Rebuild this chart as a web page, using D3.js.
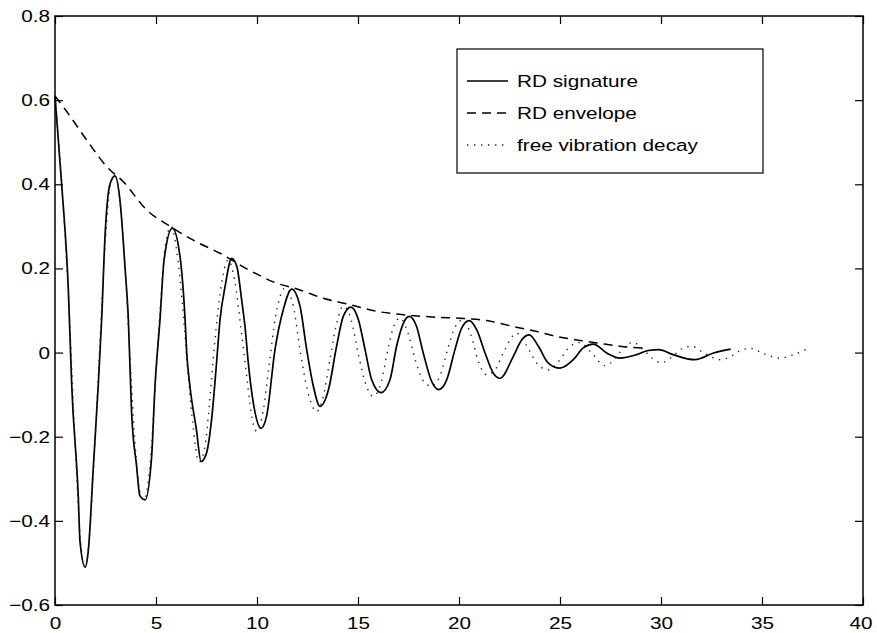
<!DOCTYPE html>
<html>
<head>
<meta charset="utf-8">
<script src="https://cdn.jsdelivr.net/npm/d3@7"></script>
<style>
  body { margin: 0; background: #fff; }
  text { font-family: "Liberation Sans", Arial, Helvetica, sans-serif; fill: #000; }
</style>
</head>
<body>
<script>
// values: [time, amplitude]
const signature = [
  [0, 0.61], [0.33, 0.40], [0.66, 0.15], [0.83, -0.08], [1.15, -0.34], [1.24, -0.45],
  [1.49, -0.51], [1.65, -0.47], [1.9, -0.27], [2.15, -0.07], [2.31, 0.08], [2.48, 0.28],
  [2.72, 0.40], [2.97, 0.42], [3.22, 0.36], [3.47, 0.20], [3.63, 0.08], [3.79, -0.14],
  [4.04, -0.27], [4.2, -0.34], [4.46, -0.35], [4.78, -0.25], [4.95, -0.08], [5.2, 0.08],
  [5.4, 0.22], [5.81, 0.296], [6.19, 0.228], [6.44, 0.078], [6.52, 0.0], [6.68, -0.08],
  [7.0, -0.183], [7.23, -0.259], [7.5, -0.239], [7.75, -0.16], [8.0, -0.023], [8.17, 0.078],
  [8.42, 0.157], [8.75, 0.224], [9.0, 0.205], [9.24, 0.125], [9.41, 0.06], [9.57, -0.025],
  [9.82, -0.12], [10.2, -0.18], [10.48, -0.15], [10.89, 0.007], [11.3, 0.102], [11.72, 0.151],
  [12.13, 0.11], [12.46, 0.007], [12.79, -0.08], [13.12, -0.128], [13.54, -0.088], [13.94, 0.015],
  [14.27, 0.086], [14.65, 0.108], [15.02, 0.078], [15.35, 0.007], [15.68, -0.065], [16.14, -0.095],
  [16.58, -0.065], [16.91, 0.015], [17.25, 0.07], [17.54, 0.086], [17.9, 0.062], [18.23, -0.001],
  [18.65, -0.069], [19.0, -0.088], [19.39, -0.065], [19.8, 0.007], [20.13, 0.058], [20.5, 0.076],
  [20.88, 0.054], [21.29, -0.001], [21.7, -0.049], [22.03, -0.061], [22.69, -0.009], [23.1, 0.03],
  [23.48, 0.042], [23.93, 0.015], [24.42, -0.025], [25.0, -0.037], [25.66, -0.017], [26.15, 0.011],
  [26.65, 0.020], [27.31, -0.001], [27.97, -0.013], [28.79, -0.005], [29.37, 0.005], [29.9, 0.007],
  [30.6, -0.005], [31.68, -0.017], [32.6, -0.001], [33.45, 0.008]
];

const envelope = [
  [0, 0.61], [0.58, 0.573], [1.57, 0.505], [2.56, 0.442], [3.38, 0.406], [4.54, 0.339],
  [5.69, 0.30], [6.97, 0.264], [8.17, 0.236], [9.65, 0.195], [10.97, 0.165], [12.05, 0.150],
  [13.28, 0.129], [14.6, 0.114], [15.93, 0.098], [17.24, 0.09], [18.89, 0.084], [20.21, 0.081],
  [21.37, 0.076], [22.69, 0.062], [23.68, 0.052], [24.84, 0.038], [25.83, 0.030], [26.82, 0.023],
  [27.97, 0.015], [29.3, 0.010]
];

const freeDecay = [
  [0, 0.61], [0.35, 0.39], [0.7, 0.1], [1.0, -0.22], [1.25, -0.44], [1.49, -0.51],
  [1.7, -0.44], [1.95, -0.24], [2.2, 0.0], [2.5, 0.27], [2.75, 0.40], [2.97, 0.42],
  [3.2, 0.37], [3.45, 0.22], [3.7, 0.0], [4.0, -0.24], [4.2, -0.33], [4.4, -0.35],
  [4.7, -0.27], [4.95, -0.09], [5.2, 0.1], [5.45, 0.25], [5.75, 0.30], [6.0, 0.25],
  [6.3, 0.12], [6.55, -0.03], [6.8, -0.16], [7.13, -0.26], [7.4, -0.23], [7.65, -0.12],
  [7.9, 0.02], [8.2, 0.15], [8.58, 0.22], [8.9, 0.17], [9.2, 0.06], [9.5, -0.06],
  [9.7, -0.14], [9.98, -0.187], [10.3, -0.14], [10.6, -0.03], [10.9, 0.08], [11.39, 0.153],
  [11.8, 0.11], [12.15, 0.0], [12.5, -0.09], [12.95, -0.14], [13.3, -0.1], [13.6, -0.02],
  [13.9, 0.06], [14.27, 0.11], [14.65, 0.08], [15.0, 0.0], [15.35, -0.07], [15.76, -0.104],
  [16.15, -0.07], [16.45, 0.0], [16.75, 0.06], [17.08, 0.082], [17.45, 0.05], [17.85, -0.02],
  [18.2, -0.065], [18.65, -0.08], [19.1, -0.05], [19.45, 0.01], [19.8, 0.06], [20.21, 0.078],
  [20.6, 0.04], [20.95, -0.02], [21.37, -0.053], [21.8, -0.04], [22.2, 0.0], [22.85, 0.046],
  [23.3, 0.02], [23.85, -0.025], [24.42, -0.041], [24.95, -0.02], [25.45, 0.012], [25.99, 0.024],
  [26.55, 0.0], [27.23, -0.031], [27.8, -0.01], [28.2, 0.015], [28.63, 0.024], [29.1, 0.008],
  [29.6, -0.015], [30.03, -0.024], [30.6, -0.008], [31.0, 0.008], [31.52, 0.015], [32.1, 0.0],
  [32.92, -0.017], [33.5, -0.008], [33.9, 0.004], [34.41, 0.010], [35.1, -0.003], [35.89, -0.013],
  [36.5, -0.006], [37.16, 0.007]
];

const xTicks = [0, 5, 10, 15, 20, 25, 30, 35, 40];
const yTicks = [-0.6, -0.4, -0.2, 0, 0.2, 0.4, 0.6, 0.8];
const legendLabels = ['RD signature', 'RD envelope', 'free vibration decay'];

const margin = { top: 16, right: 14, bottom: 28, left: 55 };
const width = 877 - margin.left - margin.right;
const height = 633 - margin.top - margin.bottom;

const svg = d3.select('body').append('svg')
    .attr('width', 877)
    .attr('height', 633);

const g = svg.append('g')
    .attr('transform', `translate(${margin.left}, ${margin.top})`);

const x = d3.scaleLinear().domain([0, 40]).range([0, width]);
const y = d3.scaleLinear().domain([-0.6, 0.8]).range([height, 0]);

const xFmt = (d) => String(d);
const yFmt = (d) => d === 0 ? '0' : d3.format('.1f')(d).replace('-', '\u2212');
const stretch = 'scale(1.22,1)';

// axes, MATLAB style: ticks inside on all four sides
const bottomAxis = g.append('g').attr('transform', `translate(0, ${height})`)
    .call(d3.axisBottom(x).tickValues(xTicks).tickFormat(xFmt).tickSizeInner(-8).tickSizeOuter(0).tickPadding(12));
const topAxis = g.append('g')
    .call(d3.axisTop(x).tickValues(xTicks).tickFormat('').tickSizeInner(-8).tickSizeOuter(0));
const leftAxis = g.append('g')
    .call(d3.axisLeft(y).tickValues(yTicks).tickFormat(yFmt).tickSizeInner(-8).tickSizeOuter(0).tickPadding(4));
const rightAxis = g.append('g').attr('transform', `translate(${width}, 0)`)
    .call(d3.axisRight(y).tickValues(yTicks).tickFormat('').tickSizeInner(-8).tickSizeOuter(0));

[bottomAxis, topAxis, leftAxis, rightAxis].forEach((a) => {
    a.select('.domain').remove();
    a.selectAll('line').attr('stroke', '#000').attr('stroke-width', 1.2);
    a.selectAll('text').style('font-size', '17px').attr('fill', '#000')
        .attr('font-family', '"Liberation Sans", Arial, sans-serif')
        .attr('transform', stretch);
});

// last x label sits at the very edge, pull it in so it stays on the page
bottomAxis.selectAll('text').filter((d) => d === 40).attr('text-anchor', 'end').attr('x', 7.5);

g.append('rect')
    .attr('width', width).attr('height', height)
    .attr('fill', 'none').attr('stroke', '#000').attr('stroke-width', 1.5);

const line = d3.line()
    .x((d) => x(d[0]))
    .y((d) => y(d[1]))
    .curve(d3.curveMonotoneX);

const styles = [
    { data: signature, dash: null, width: 1.7, color: '#000' },
    { data: envelope, dash: '9,6', width: 1.5, color: '#000' },
    { data: freeDecay, dash: '1.4,5.6', width: 1.4, color: '#222' }
];

g.selectAll('path.series').data(styles).join('path')
    .attr('class', 'series')
    .attr('d', (d) => line(d.data))
    .attr('fill', 'none')
    .attr('stroke', (d) => d.color)
    .attr('stroke-width', (d) => d.width)
    .attr('stroke-dasharray', (d) => d.dash);

// legend
const legend = svg.append('g').attr('transform', 'translate(457, 49)');
legend.append('rect')
    .attr('width', 306).attr('height', 124)
    .attr('fill', '#fff').attr('stroke', '#000').attr('stroke-width', 1.2);

const rows = legend.selectAll('g.row').data(legendLabels).join('g')
    .attr('class', 'row')
    .attr('transform', (d, i) => `translate(0, ${32 + i * 32})`);

rows.append('line')
    .attr('x1', 10).attr('x2', 51)
    .attr('stroke', (d, i) => styles[i].color)
    .attr('stroke-width', (d, i) => styles[i].width)
    .attr('stroke-dasharray', (d, i) => styles[i].dash);

rows.append('text')
    .attr('transform', 'translate(60, 6) ' + stretch)
    .style('font-size', '17px')
    .text((d) => d);
</script>
</body>
</html>
